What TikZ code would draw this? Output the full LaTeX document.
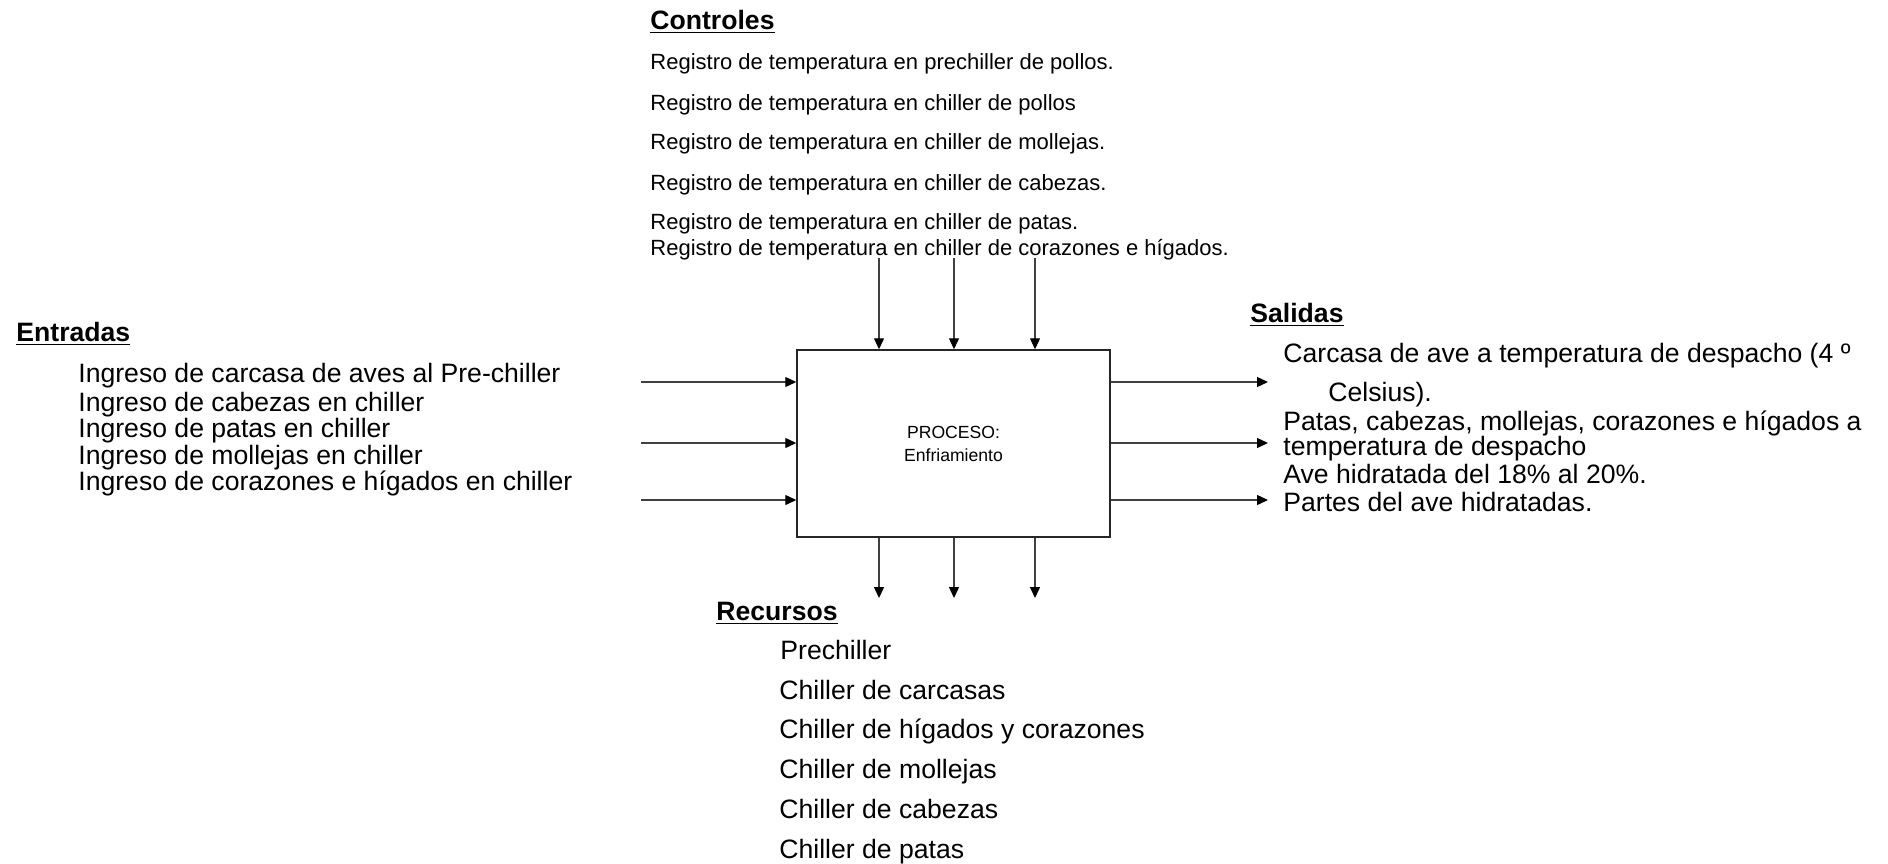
\documentclass[tikz,border=0pt]{standalone}
\usepackage{fontspec}
\setmainfont{Liberation Sans}
\usetikzlibrary{arrows.meta}
\begin{document}
\begin{tikzpicture}[x=0.5pt,y=-0.5pt,
  arr/.style={draw=black!75, line width=0.65pt, -{Triangle[length=5.5pt,width=5pt,color=black]}},
  txt/.style={anchor=base west, inner sep=0pt, font=\fontsize{13.3pt}{14pt}\selectfont},
  ctl/.style={anchor=base west, inner sep=0pt, font=\fontsize{11pt}{12pt}\selectfont},
  head/.style={anchor=base west, inner sep=0pt, font=\fontsize{13.3pt}{14pt}\selectfont\bfseries},
  proc/.style={draw=black!85, line width=0.75pt, minimum width=156.5pt, minimum height=93.5pt, inner sep=0pt, align=center, font=\fontsize{8.8pt}{11.5pt}\selectfont}
]
\useasboundingbox (0,0) rectangle (1888,863);

% process box
\node[proc] (box) at (953.5,443.5) {PROCESO:\\Enfriamiento};

% Controles
\node[head] (hctl) at (650,29.5) {\underline{Controles}};
\node[ctl] (c1) at (650,69) {Registro de temperatura en prechiller de pollos.};
\node[ctl] (c2) at (650,110) {Registro de temperatura en chiller de pollos};
\node[ctl] (c3) at (650,149) {Registro de temperatura en chiller de mollejas.};
\node[ctl] (c4) at (650,190) {Registro de temperatura en chiller de cabezas.};
\node[ctl] (c5) at (650,229) {Registro de temperatura en chiller de patas.};
\node[ctl] (c6) at (650,255) {Registro de temperatura en chiller de corazones e hígados.};

% Entradas
\node[head] (hin) at (16,341.5) {\underline{Entradas}};
\node[txt] (e1) at (78,382.5) {Ingreso de carcasa de aves al Pre-chiller};
\node[txt] (e2) at (78,411.5) {Ingreso de cabezas en chiller};
\node[txt] (e3) at (78,437.5) {Ingreso de patas en chiller};
\node[txt] (e4) at (78,464.5) {Ingreso de mollejas en chiller};
\node[txt] (e5) at (78,490.5) {Ingreso de corazones e hígados en chiller};

% Salidas
\node[head] (hout) at (1250,322.5) {\underline{Salidas}};
\node[txt] (s1) at (1283,362.5) {Carcasa de ave a temperatura de despacho (4 º};
\node[txt] (s1b) at (1328,401.5) {Celsius).};
\node[txt] (s2) at (1283,430.5) {Patas, cabezas, mollejas, corazones e hígados a};
\node[txt] (s2b) at (1283,455.5) {temperatura de despacho};
\node[txt] (s3) at (1283,483.5) {Ave hidratada del 18\% al 20\%.};
\node[txt] (s4) at (1283,511.5) {Partes del ave hidratadas.};

% Recursos
\node[head] (hres) at (716,620.5) {\underline{Recursos}};
\node[txt] (r1) at (780,659.5) {Prechiller};
\node[txt] (r2) at (779,699.5) {Chiller de carcasas};
\node[txt] (r3) at (779,738.5) {Chiller de hígados y corazones};
\node[txt] (r4) at (779,778.5) {Chiller de mollejas};
\node[txt] (r5) at (779,818.5) {Chiller de cabezas};
\node[txt] (r6) at (779,858.5) {Chiller de patas};

% free ends of connectors
\coordinate (ct1) at (879,258);
\coordinate (ct2) at (954,258);
\coordinate (ct3) at (1035,258);
\coordinate (rb1) at (879,598);
\coordinate (rb2) at (954,598);
\coordinate (rb3) at (1035,598);
\coordinate (in1) at (641,382);
\coordinate (in2) at (641,443);
\coordinate (in3) at (641,500);
\coordinate (out1) at (1268,382);
\coordinate (out2) at (1268,443);
\coordinate (out3) at (1268,500);

% connectors
\draw[arr] (ct1) -- (ct1 |- box.north);
\draw[arr] (ct2) -- (ct2 |- box.north);
\draw[arr] (ct3) -- (ct3 |- box.north);
\draw[arr] (rb1 |- box.south) -- (rb1);
\draw[arr] (rb2 |- box.south) -- (rb2);
\draw[arr] (rb3 |- box.south) -- (rb3);
\draw[arr] (in1) -- (in1 -| box.west);
\draw[arr] (in2) -- (in2 -| box.west);
\draw[arr] (in3) -- (in3 -| box.west);
\draw[arr] (out1 -| box.east) -- (out1);
\draw[arr] (out2 -| box.east) -- (out2);
\draw[arr] (out3 -| box.east) -- (out3);
\end{tikzpicture}
\end{document}
